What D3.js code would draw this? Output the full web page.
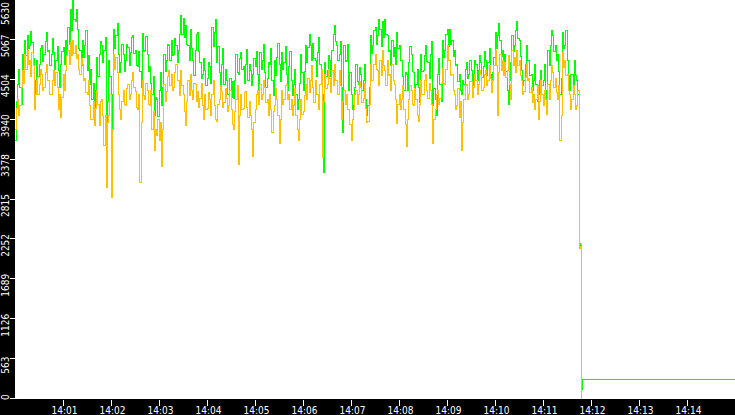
<!DOCTYPE html>
<html>
  <head>
    <meta charset="utf-8">
    <title>Throughput</title>
    <style media="screen">
    body{margin: 0; background: #fff}
    svg{display: block}
    text{font-family: "DejaVu Sans Condensed", "Liberation Sans", sans-serif; font-size: 10px; fill: #fff}
    </style>
  </head>
  <body>

    <script src="https://d3js.org/d3.v7.min.js"></script>

    <script type="text/javascript">
      var w = 735, h = 415;

      // one sample every 1.5 s starting 14:00:00
      var startTime = new Date(2020, 0, 1, 14, 0, 0)
      var endTime = new Date(2020, 0, 1, 14, 15, 0)
      var stepMs = 1500

      var greenValues = [
        3654,4200,4431,4650,4389,4150,4854,4600,5065,4850,5136,4950,4995,5180,5037,4800,4501,4300,4783,4550,
        4713,4950,4995,4760,4854,5050,5178,4900,4924,4700,4854,5080,4896,4650,4783,4980,4642,4400,4713,4900,
        4953,4720,5065,4850,5235,5000,5489,5200,5620,5350,5320,5500,5207,4950,4924,4700,5065,4820,4995,5200,
        4642,4850,4431,4650,4219,4450,4078,4350,4812,4550,4854,5050,4995,4750,4924,5100,3654,4200,4783,4550,
        3796,4300,5207,4950,5136,5300,4854,4600,4755,5000,4854,4620,4783,5000,4953,4700,4896,5100,5136,4880,
        4924,4700,4685,4900,4628,4400,5164,4900,4924,5120,4854,4620,4685,4450,4290,4550,4007,4250,4219,3980,
        4360,4600,4148,4400,4854,4620,4783,5000,4995,4780,5065,4850,4854,5080,4995,4750,4924,5150,5418,5150,
        5376,5100,5277,5000,4995,4780,5207,4950,4783,4560,4924,5150,5178,4900,4755,4520,4572,4800,4642,4420,
        4529,4750,4685,4450,5235,4980,5178,5350,4755,4980,4614,4400,4713,4950,4431,4650,4501,4300,4290,4520,
        4261,4480,4247,4500,4854,4600,4572,4800,4896,4650,4685,4450,4713,4930,4501,4720,4642,4420,4572,4800,
        4685,4900,4572,4350,4896,4650,4783,5000,4614,4400,4529,4750,4713,4950,4501,4280,4783,4560,4812,5020,
        4713,4480,4896,4650,4755,4980,4572,4350,4685,4900,4501,4280,4431,4650,4290,4080,4219,4450,4854,4600,
        4360,4620,4995,4750,4953,5150,4995,4780,5022,4800,4783,4550,4896,5100,4713,4480,4300,3203,4755,4550,
        4642,4850,4783,4550,4924,5150,5277,5050,4995,4780,4854,5050,4400,3767,4995,4760,4783,5000,4360,4600,
        4290,4080,4148,4400,4713,4480,4431,4680,4572,4350,4501,4720,4219,4000,4148,4400,5136,4880,4995,5200,
        5235,5000,5136,5350,5207,4980,5320,5100,5348,5150,5136,4900,4924,4700,5065,4830,4953,4720,5178,4950,
        4995,4780,4783,4550,4360,4600,4572,4350,4755,4980,4854,4620,4614,4400,4431,4650,4389,4180,4854,4620,
        4642,4850,4995,4760,4755,4520,4854,5050,4148,4380,4219,4000,4572,4800,4431,4200,5065,4820,4924,5150,
        5207,4980,5207,5000,5065,4830,4924,4700,4713,4480,4572,4350,4290,4500,4431,4650,4755,4520,4572,4780,
        4642,4420,4572,4780,4713,4500,4642,4850,4755,4540,4685,4900,4783,4560,4755,4950,4572,4350,4614,4820,
        5178,4950,5136,5300,5065,4830,4924,4700,4854,4620,4360,4150,4501,4750,5136,4900,4995,5200,5320,5080,
        5065,4830,4642,4420,4501,4720,4995,4780,4783,4560,4572,4350,4501,4720,4431,4200,4290,4500,4642,4420,
        4501,4720,4346,4150,4924,4700,4995,5200,5136,4900,4995,4780,4854,4620,4290,4520,5178,4950,4995,5200,
        4783,4560,4360,4580,4572,4350,4783,4560,4501,4300,2200,2170
      ]

      var orangeValues = [
        3796,4100,4219,4000,4148,4400,4642,4450,4854,4650,4924,4720,4783,4550,4896,4700,4078,4300,4501,4300,
        4431,4650,4572,4350,4389,4600,4713,4500,4501,4300,4290,4500,4642,4420,4614,4400,4078,4300,3965,4250,
        4572,4350,4642,4850,4924,4720,5037,4850,5065,4880,4995,4800,4854,4650,4572,4800,4713,4500,4529,4320,
        4290,4500,4148,3950,3937,4200,3862,4100,4360,4150,3866,4200,4219,4000,3584,4000,2991,3900,4007,4300,
        2850,3800,4854,4650,4825,4600,4290,4080,3937,4200,4360,4150,4148,4380,4431,4220,4290,4500,4614,4400,
        4332,4120,4078,4300,3048,3900,4501,4280,4219,4450,4360,4150,4148,4350,3796,4050,3513,3800,3725,3950,
        3654,3900,3274,3800,4431,4200,4332,4550,4642,4420,4572,4350,4389,4600,4713,4500,4501,4280,4642,4420,
        4290,4050,3866,4200,4501,4280,4572,4350,4219,4450,4431,4200,4332,4120,4247,4450,4148,3950,4290,4080,
        4106,4320,4219,4000,4290,4500,4148,3950,3909,4150,4219,4420,4332,4120,4177,4380,4247,4050,4148,4350,
        4078,3880,3796,4050,4219,4420,3302,4000,4290,4080,4106,4320,4332,4120,3965,4200,4007,3800,3415,3900,
        4078,4300,4360,4150,4431,4220,4290,4500,4389,4180,4219,4000,4290,4080,3767,4050,4148,4380,4219,4000,
        3612,3950,4360,4150,4219,4430,4431,4220,4290,4080,4219,4000,4148,4380,4007,3800,3654,3950,4219,4020,
        4050,4280,4431,4220,4529,4320,4501,4700,4389,4180,4501,4300,4290,4080,4431,4650,3401,4200,4572,4380,
        4431,4650,4529,4320,4642,4430,4713,4500,4501,4290,4642,4430,3937,4200,4360,4150,4290,4080,4078,3880,
        3654,3950,4078,4300,4360,4150,4290,4480,4389,4180,4247,4450,4106,3900,3909,4150,4713,4500,4501,4720,
        4854,4650,4642,4430,4783,4570,4924,4700,4642,4430,4783,4570,4572,4360,4713,4500,4431,4220,3894,4150,
        4290,4080,4219,4430,4078,3880,3556,3950,4219,4430,4360,4150,4148,4380,4219,4000,3909,4150,4501,4290,
        4290,4500,4572,4360,4247,4450,4360,4150,3612,3950,4078,4300,4360,4150,4247,4450,4670,4450,4431,4650,
        4995,4780,4783,4570,4572,4360,4290,4080,4148,4380,3965,4200,3513,3900,4219,4430,4431,4220,4290,4480,
        4473,4260,4389,4580,4501,4290,4431,4640,4572,4360,4389,4580,4642,4430,4501,4700,4529,4320,4501,4700,
        4924,4700,4007,4600,4854,4640,4783,4570,4755,4540,4642,4850,4431,4220,4924,4710,4812,4600,4924,4710,
        4783,4570,4501,4290,4332,4540,4713,4500,4529,4320,4389,4180,4290,4080,4219,4430,3937,4200,4501,4290,
        4148,4360,4219,4010,4431,4220,4501,4710,4614,4400,4529,4320,4219,4430,3654,4000,4896,4680,4783,4570,
        4572,4360,4290,4080,4219,4430,4290,4080,4148,4350,2120,2150
      ]

      // after the drop (14:11:48 onwards)
      var greenTailTimes = ["14:11:48", "14:11:49", "14:15:00"]
      var greenTailValues = [140, 270, 270]
      var orangeTailTimes = ["14:11:48"]
      var orangeTailValues = [0]

      var yTickValues = [0, 563, 1126, 1689, 2252, 2815, 3378, 3940, 4504, 5067, 5630]
      var yTickLabels = ["0", "563", "1126", "1689", "2252", "2815", "3378", "3940", "4504", "5067", "5630"]
      var yMax = 5630

      var parseT = function(s){
        var p = s.split(':')
        return new Date(2020, 0, 1, +p[0], +p[1], +p[2])
      }

      function build(values, tailTimes, tailValues){
        var pts = values.map(function(v, i){
          return {t: new Date(startTime.getTime() + i * stepMs), v: v}
        })
        tailTimes.forEach(function(s, i){
          pts.push({t: parseT(s), v: tailValues[i]})
        })
        return pts
      }

      var greenPts = build(greenValues, greenTailTimes, greenTailValues)
      var orangePts = build(orangeValues, orangeTailTimes, orangeTailValues)

      var left = 15, bottom = 399

      var x = d3.scaleTime().domain([startTime, endTime]).range([left, w])
      var y = d3.scaleLinear().domain([0, yMax]).range([bottom, 0])

      var svg = d3.select('body').append('svg')
        .attr('width', w)
        .attr('height', h)

      svg.append('rect').attr('width', w).attr('height', h).attr('fill', '#fff')

      var line = d3.line()
        .x(function(d){ return x(d.t) })
        .y(function(d){ return y(d.v) })
        .curve(d3.curveStepAfter)

      svg.append('path')
        .datum(greenPts)
        .attr('d', line)
        .attr('fill', 'none')
        .attr('stroke', '#00ff00')
        .attr('stroke-width', 1)
        .attr('shape-rendering', 'crispEdges')

      svg.append('path')
        .datum(orangePts)
        .attr('d', line)
        .attr('fill', 'none')
        .attr('stroke', '#ffc000')
        .attr('stroke-width', 1)
        .attr('shape-rendering', 'crispEdges')

      // black axis bands
      svg.append('rect').attr('x', 0).attr('y', 0).attr('width', left).attr('height', h).attr('fill', '#000')
      svg.append('rect').attr('x', 0).attr('y', bottom).attr('width', w).attr('height', h - bottom).attr('fill', '#000')

      // x axis
      var xTicks = d3.timeMinute.every(1).range(new Date(2020, 0, 1, 14, 1), endTime)
      var fmt = d3.timeFormat('%H:%M')
      var xg = svg.append('g')
      xg.selectAll('line').data(xTicks).enter().append('line')
        .attr('x1', function(d){ return Math.round(x(d)) + 0.5 })
        .attr('x2', function(d){ return Math.round(x(d)) + 0.5 })
        .attr('y1', bottom + 1).attr('y2', bottom + 7)
        .attr('stroke', '#fff')
      xg.selectAll('text').data(xTicks).enter().append('text')
        .attr('x', function(d){ return x(d) + 1.5 })
        .attr('y', 414)
        .attr('text-anchor', 'middle')
        .text(fmt)

      // y axis
      var yg = svg.append('g')
      yg.selectAll('line').data(yTickValues).enter().append('line')
        .attr('x1', 10).attr('x2', left)
        .attr('y1', function(d){ return Math.round(y(d)) - 0.5 })
        .attr('y2', function(d){ return Math.round(y(d)) - 0.5 })
        .attr('stroke', '#fff')
      yg.selectAll('text').data(yTickValues).enter().append('text')
        .attr('text-anchor', 'middle')
        .text(function(d, i){ return yTickLabels[i] })
        .attr('transform', function(d){
          var len = this.getComputedTextLength()
          var c = y(d) + 6
          if(c - len / 2 < 2) c = 2 + len / 2
          if(c + len / 2 > 400) c = 400 - len / 2
          return 'translate(8.5,' + c + ') rotate(-90)'
        })

    </script>

  </body>
</html>
